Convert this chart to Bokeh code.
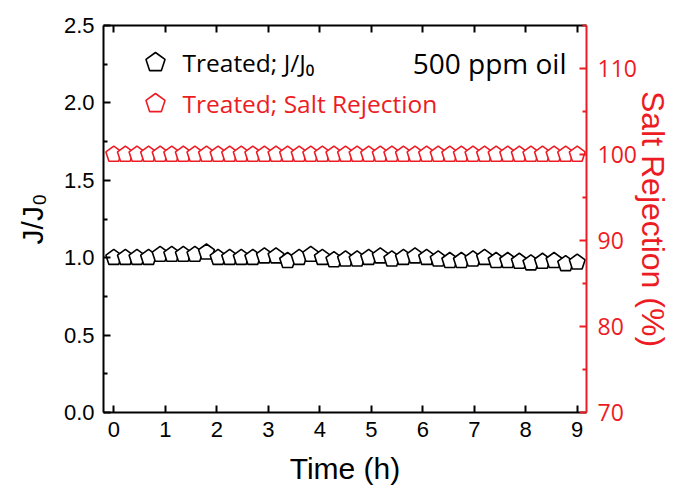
import math
from bokeh.plotting import figure
from bokeh.models import Range1d, LinearAxis, Label, FixedTicker, PrintfTickFormatter
from bokeh.embed import file_html
from bokeh.resources import INLINE

# ---------------- data ----------------
time_h = [0.0, 0.225, 0.45, 0.675, 0.9, 1.125, 1.35, 1.575, 1.8, 2.025,
          2.25, 2.475, 2.7, 2.925, 3.15, 3.375, 3.6, 3.825, 4.05, 4.275,
          4.5, 4.725, 4.95, 5.175, 5.4, 5.625, 5.85, 6.075, 6.3, 6.525,
          6.75, 6.975, 7.2, 7.425, 7.65, 7.875, 8.1, 8.325, 8.55, 8.775, 9.0]
flux_ratio = [1.00, 1.00, 1.00, 1.00, 1.02, 1.02, 1.02, 1.02, 1.035, 1.00,
              1.00, 1.00, 1.00, 1.01, 1.01, 0.98, 1.00, 1.02, 1.00, 0.985,
              0.99, 0.99, 1.00, 1.01, 0.99, 1.00, 1.01, 1.00, 0.99, 0.98,
              0.98, 0.99, 1.00, 0.98, 0.98, 0.975, 0.965, 0.975, 0.98, 0.96, 0.97]
salt_rejection = [100.0, 100.0, 100.0, 100.0, 100.0, 100.0, 100.0, 100.0, 100.0, 100.0,
                  100.0, 100.0, 100.0, 100.0, 100.0, 100.0, 100.0, 100.0, 100.0, 100.0,
                  100.0, 100.0, 100.0, 100.0, 100.0, 100.0, 100.0, 100.0, 100.0, 100.0,
                  100.0, 100.0, 100.0, 100.0, 100.0, 100.0, 100.0, 100.0, 100.0, 100.0, 100.0]
x_ticks = [0, 1, 2, 3, 4, 5, 6, 7, 8, 9]
left_ticks = [0.0, 0.5, 1.0, 1.5, 2.0, 2.5]
left_minor = [0.25, 0.75, 1.25, 1.75, 2.25]
right_ticks = [70, 80, 90, 100, 110]
right_minor = [75, 85, 95, 105, 115]

# ---------------- layout ----------------
W, H = 673, 496
BL, BR, BT, BB = 103, 87, 25, 84
FW, FH = W - BL - BR, H - BT - BB
XR = (-0.2, 9.18)
YL = (0.0, 2.5)
YR = (70.0, 115.0)
RED = "#ED1C24"
TICK_FONT = "Liberation Sans"
TEXT_FONT = "Open Sans"

p = figure(width=W, height=H, output_backend="svg", toolbar_location=None,
           x_range=Range1d(*XR), y_range=Range1d(*YL),
           min_border_left=BL, min_border_right=BR, min_border_top=BT, min_border_bottom=BB,
           x_axis_location=None, y_axis_location=None)
p.extra_y_ranges = {"sr": Range1d(*YR)}
p.grid.visible = False
p.outline_line_color = None
p.background_fill_color = "white"
p.border_fill_color = "white"


def style_axis(ax, color, ticks, minor, label, label_size, font=TICK_FONT, size="22px"):
    ax.ticker = FixedTicker(ticks=ticks, minor_ticks=minor)
    ax.axis_line_color = color
    ax.axis_line_width = 2
    ax.major_tick_line_color = color
    ax.major_tick_line_width = 2
    ax.minor_tick_line_color = color
    ax.minor_tick_line_width = 2
    ax.major_tick_in = 7
    ax.major_tick_out = 0
    ax.minor_tick_in = 4 if minor else 0
    ax.minor_tick_out = 0
    ax.major_label_text_color = color
    ax.major_label_text_font = font
    ax.major_label_text_font_style = "normal"
    ax.major_label_text_font_size = size
    ax.major_label_standoff = 9
    if label:
        ax.axis_label = label
        ax.axis_label_text_font = TICK_FONT
        ax.axis_label_text_font_size = label_size
        ax.axis_label_text_font_style = "normal"
        ax.axis_label_text_color = color


bottom = LinearAxis()
style_axis(bottom, "black", x_ticks, [], "Time (h)", "30px")
bottom.axis_label_standoff = 12
p.add_layout(bottom, "below")

top = LinearAxis()
style_axis(top, "black", x_ticks, [], None, None, size="10px")
top.major_label_overrides = {t: "" for t in x_ticks}
top.major_label_standoff = 0
p.add_layout(top, "above")

left = LinearAxis(formatter=PrintfTickFormatter(format="%.1f"))
style_axis(left, "black", left_ticks, left_minor, "J/J\u2080", "30px")
left.axis_label_standoff = 12
p.add_layout(left, "left")

right = LinearAxis(y_range_name="sr")
style_axis(right, RED, right_ticks, right_minor, "Salt Rejection (%)", "32px",
           font=TEXT_FONT, size="23px")
right.major_label_standoff = 11
right.axis_label_standoff = -5
p.add_layout(right, "right")

sx = (XR[1] - XR[0]) / FW
syl = (YL[1] - YL[0]) / FH
syr = (YR[1] - YR[0]) / FH


def pentagons(xv, yv, r_px, sy):
    xs, ys = [], []
    for cx, cy in zip(xv, yv):
        angs = [math.radians(90 + 72 * k) for k in range(5)]
        xs.append([cx + r_px * math.cos(a) * sx for a in angs])
        ys.append([cy + r_px * math.sin(a) * sy for a in angs])
    return xs, ys


bx, by = pentagons(time_h, flux_ratio, 8.3, syl)
p.patches(bx, by, fill_color="white", line_color="black", line_width=1.6)

rx, ry = pentagons(time_h, salt_rejection, 8.3, syr)
p.patches(rx, ry, fill_color="white", line_color=RED, line_width=1.6, y_range_name="sr")


def sx2d(px):
    return XR[0] + (px - BL) * sx


def sy2d(py):
    return YL[1] - (py - BT) * syl


# legend
lx, ly = pentagons([sx2d(155)], [sy2d(62)], 10, syl)
p.patches(lx, ly, fill_color="white", line_color="black", line_width=1.6)
lx, ly = pentagons([sx2d(155)], [sy2d(103)], 10, syl)
p.patches(lx, ly, fill_color="white", line_color=RED, line_width=1.6)

p.add_layout(Label(x=sx2d(182), y=sy2d(62), text="Treated; J/J\u2080", text_font=TEXT_FONT,
                   text_font_size="24.5px", text_color="black", text_baseline="middle"))
p.add_layout(Label(x=sx2d(182), y=sy2d(103), text="Treated; Salt Rejection", text_font=TEXT_FONT,
                   text_font_size="24.5px", text_color=RED, text_baseline="middle"))
p.add_layout(Label(x=sx2d(566), y=sy2d(62), text="500 ppm oil", text_font=TEXT_FONT,
                   text_font_size="28px", text_color="black", text_baseline="middle",
                   text_align="right"))

open("out.html", "w").write(file_html(p, INLINE))
